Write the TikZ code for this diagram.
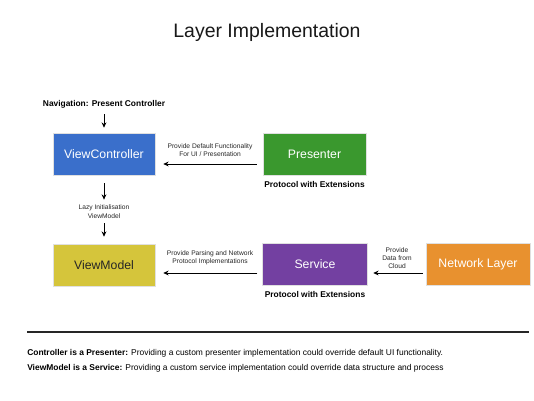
\documentclass[tikz,border=0pt]{standalone}
\usepackage{fontspec}
\setmainfont{Liberation Sans}
\usetikzlibrary{arrows.meta,calc,shadows}
\definecolor{cblue}{HTML}{3A6FCB}
\definecolor{cgreen}{HTML}{3A982E}
\definecolor{cyellow}{HTML}{D5C53B}
\definecolor{cpurple}{HTML}{7340A1}
\definecolor{corange}{HTML}{E8912F}
\tikzset{
  layerbox/.style={draw=black!12, line width=0.4pt, minimum height=31.5pt, text=white,
    font=\fontsize{9.2}{11}\selectfont, inner sep=0pt,
    drop shadow={opacity=0.25, shadow xshift=0.6pt, shadow yshift=-0.6pt}},
  arr/.style={-{Stealth[length=4pt,width=3.6pt]}, line width=0.75pt, black},
  small/.style={font=\fontsize{5}{6.2}\selectfont, align=center, text=black!85, inner sep=0pt},
  boldlbl/.style={font=\fontsize{6.3}{7.5}\selectfont\bfseries, inner sep=0pt},
  foot/.style={font=\fontsize{6.33}{7.5}\selectfont, anchor=west, inner sep=0pt}
}
\begin{document}
\begin{tikzpicture}[x=0.75pt,y=-0.75pt]
\useasboundingbox (0,0) rectangle (534,400);
\fill[white] (0,0) rectangle (534,400);
\node[text=black!90] (title) at (267,32) {\fontsize{14.6}{17}\selectfont Layer Implementation};

\node[layerbox, fill=cblue, minimum width=76.5pt] (vc) at (104,154) {ViewController};
\node[layerbox, fill=cgreen, minimum width=77.2pt] (pr) at (314.5,154) {Presenter};
\node[layerbox, fill=cyellow, minimum width=76.5pt, text=black!85] (vm) at (104,265) {ViewModel};
\node[layerbox, fill=cpurple, minimum width=78.7pt] (sv) at (315,264) {Service};
\node[layerbox, fill=corange, minimum width=78pt] (nw) at (478,264) {Network Layer};

\node[boldlbl] (nav) at (104,104) {Navigation: Present Controller};
\node[small] (lazy) at (104,211.5) {Lazy Initialisation\\ViewModel};
\node[small] (pdf) at (210,150) {Provide Default Functionality\\For UI / Presentation};
\node[small] (ppn) at (210,258) {Provide Parsing and Network\\Protocol Implementations};
\node[small] (pdc) at (397,258) {Provide\\Data from\\Cloud};
\node[boldlbl] (pwe1) at (314.5,184.5) {Protocol with Extensions};
\node[boldlbl] (pwe2) at (315,294.5) {Protocol with Extensions};

\draw[arr] ($(nav.south)+(0,6)$) -- ($(vc.north)+(0,-5)$);
\draw[arr] ($(vc.south)+(0,8)$) -- ($(lazy.north)+(0,-5)$);
\draw[arr] ($(lazy.south)+(0,5)$) -- ($(vm.north)+(0,-7)$);
\draw[arr] ($(pr.west)+(-6,10)$) -- ($(vc.east)+(8,10)$);
\draw[arr] ($(sv.west)+(-5,9)$) -- ($(vm.east)+(8,8)$);
\draw[arr] ($(nw.west)+(-3,9)$) -- ($(sv.east)+(5.5,9)$);

\coordinate (l1) at (27,332);
\coordinate (l2) at (529,332);
\draw[line width=0.8pt, black!85] (l1) -- (l2);
\node[foot] (f1) at (27,353) {\textbf{Controller is a Presenter:} Providing a custom presenter implementation could override default UI functionality.};
\node[foot] (f2) at (27,368) {\textbf{ViewModel is a Service:} Providing a custom service implementation could override data structure and process};
\end{tikzpicture}
\end{document}
